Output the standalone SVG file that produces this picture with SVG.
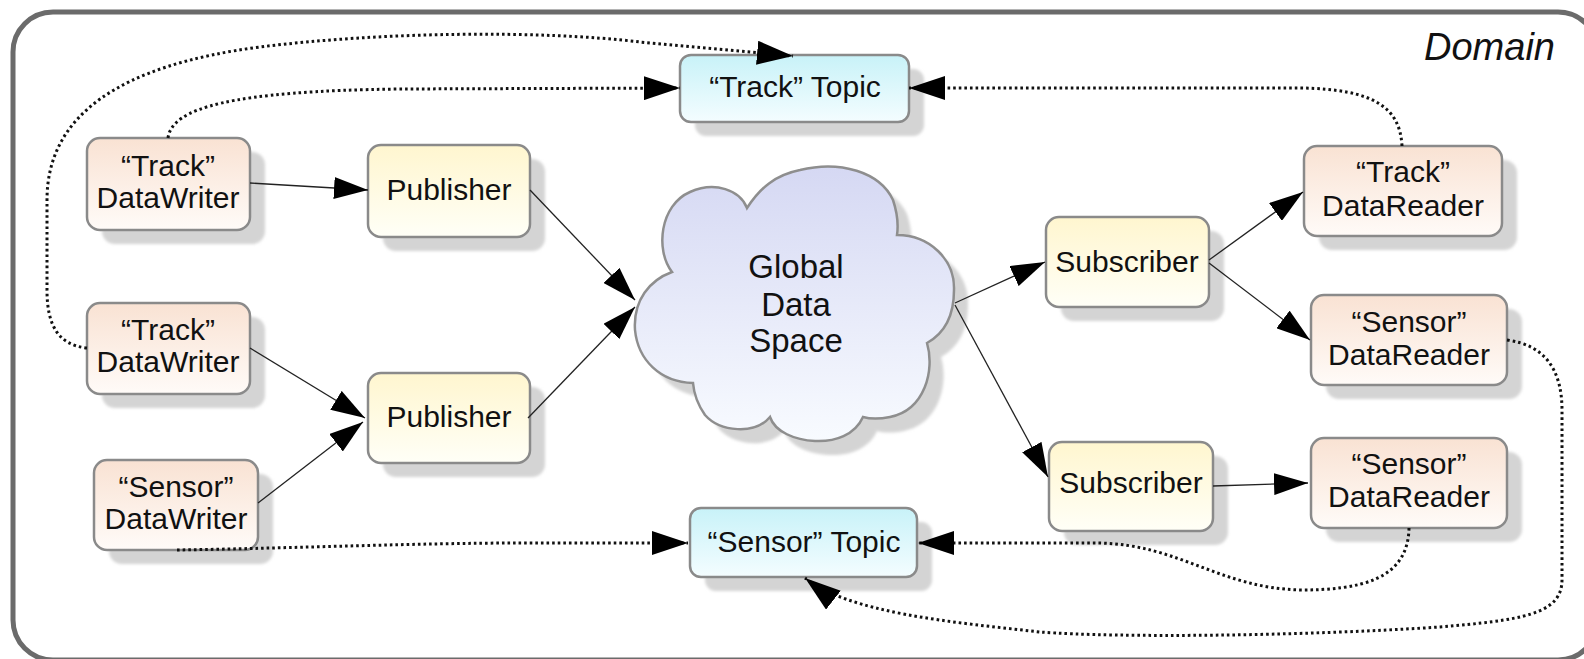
<svg xmlns="http://www.w3.org/2000/svg" width="1584" height="659" viewBox="0 0 1584 659">
  <defs>
    <linearGradient id="gPeach" x1="0" y1="0" x2="0" y2="1">
      <stop offset="0" stop-color="#f9e2d3"/>
      <stop offset="1" stop-color="#fffbf8"/>
    </linearGradient>
    <linearGradient id="gYellow" x1="0" y1="0" x2="0" y2="1">
      <stop offset="0" stop-color="#fff6cf"/>
      <stop offset="1" stop-color="#fffff7"/>
    </linearGradient>
    <linearGradient id="gCyan" x1="0" y1="0" x2="0" y2="1">
      <stop offset="0" stop-color="#c8f2f8"/>
      <stop offset="1" stop-color="#f4fdff"/>
    </linearGradient>
    <linearGradient id="gCloud" x1="0" y1="0" x2="0" y2="1">
      <stop offset="0" stop-color="#d5d8f3"/>
      <stop offset="1" stop-color="#f8fbff"/>
    </linearGradient>
    <filter id="soft" x="-10%" y="-10%" width="120%" height="120%">
      <feGaussianBlur stdDeviation="1.5"/>
    </filter>
    <marker id="head" viewBox="0 0 36 24" markerWidth="36" markerHeight="24" refX="36" refY="12" orient="auto" markerUnits="userSpaceOnUse">
      <path d="M0,0 L36,12 L0,24 Z" fill="#000"/>
    </marker>
    <marker id="headS" viewBox="0 0 34 22" markerWidth="34" markerHeight="22" refX="34" refY="11" orient="auto" markerUnits="userSpaceOnUse">
      <path d="M0,0 L34,11 L0,22 Z" fill="#000"/>
    </marker>
  </defs>
  <style>
    .frame { fill: #ffffff; stroke: #6b6b6b; stroke-width: 5; }
    .shadow { fill: #d4d4d4; filter: url(#soft); }
    .box { stroke: #8a8a8a; stroke-width: 2.5; }
    .peach { fill: url(#gPeach); }
    .yellow { fill: url(#gYellow); }
    .cyan { fill: url(#gCyan); }
    .cloud { fill: url(#gCloud); stroke: #8e8e8e; stroke-width: 2.5; }
    .lbl { font-family: "Liberation Sans", Arial, sans-serif; font-size: 30px; fill: #111; text-anchor: middle; }
    .cloudlbl { font-family: "Liberation Sans", Arial, sans-serif; font-size: 33px; fill: #111; text-anchor: middle; }
    .domain { font-family: "Liberation Sans", Arial, sans-serif; font-size: 38px; font-style: italic; fill: #111; text-anchor: end; }
    .solid { fill: none; stroke: #222; stroke-width: 1.3; marker-end: url(#headS); }
    .dotted { fill: none; stroke: #111; stroke-width: 3; stroke-dasharray: 2.6 3; marker-end: url(#head); }
  </style>

  <!-- domain boundary -->
  <g id="domain">
    <rect class="frame" x="13" y="12" width="1585" height="648" rx="40" ry="40"/>
    <text class="domain" x="1555" y="60">Domain</text>
  </g>

  <!-- central data space -->
  <g id="global-data-space">
    <path class="shadow" transform="translate(14,14)" d="M672,272 C655,250 660,205 690,192 C715,181 740,190 747,208 C760,188 775,175 800,170 C840,160 880,172 893,200 C898,215 898,228 897,235 C930,235 955,260 954,290 C954,315 945,333 927,343 C935,370 925,410 890,417 C880,419 870,419 863,417 C855,435 835,442 815,441 C795,440 775,432 770,417 C755,435 720,432 705,415 C698,405 694,395 693,383 C660,382 638,360 635,330 C633,300 650,280 672,272 Z"/>
    <path class="cloud" d="M672,272 C655,250 660,205 690,192 C715,181 740,190 747,208 C760,188 775,175 800,170 C840,160 880,172 893,200 C898,215 898,228 897,235 C930,235 955,260 954,290 C954,315 945,333 927,343 C935,370 925,410 890,417 C880,419 870,419 863,417 C855,435 835,442 815,441 C795,440 775,432 770,417 C755,435 720,432 705,415 C698,405 694,395 693,383 C660,382 638,360 635,330 C633,300 650,280 672,272 Z"/>
    <text class="cloudlbl" x="796" y="278">Global</text>
    <text class="cloudlbl" x="796" y="316">Data</text>
    <text class="cloudlbl" x="796" y="352">Space</text>
  </g>

  <!-- topics -->
  <g id="track-topic">
    <rect class="shadow" x="695" y="69" width="229" height="67" rx="11"/>
    <rect class="box cyan" x="680" y="55" width="229" height="67" rx="11"/>
    <text class="lbl" x="795" y="97">“Track” Topic</text>
  </g>
  <g id="sensor-topic">
    <rect class="shadow" x="705" y="522" width="227" height="69" rx="11"/>
    <rect class="box cyan" x="690" y="508" width="227" height="69" rx="11"/>
    <text class="lbl" x="804" y="552">“Sensor” Topic</text>
  </g>

  <!-- writers -->
  <g id="track-writer-1">
    <rect class="shadow" x="102" y="152" width="163" height="92" rx="13"/>
    <rect class="box peach" x="87" y="138" width="163" height="92" rx="13"/>
    <text class="lbl" x="168" y="176">“Track”</text>
    <text class="lbl" x="168" y="208">DataWriter</text>
  </g>
  <g id="track-writer-2">
    <rect class="shadow" x="102" y="317" width="163" height="91" rx="13"/>
    <rect class="box peach" x="87" y="303" width="163" height="91" rx="13"/>
    <text class="lbl" x="168" y="340">“Track”</text>
    <text class="lbl" x="168" y="372">DataWriter</text>
  </g>
  <g id="sensor-writer">
    <rect class="shadow" x="109" y="474" width="164" height="90" rx="13"/>
    <rect class="box peach" x="94" y="460" width="164" height="90" rx="13"/>
    <text class="lbl" x="176" y="497">“Sensor”</text>
    <text class="lbl" x="176" y="529">DataWriter</text>
  </g>

  <!-- publishers -->
  <g id="publisher-1">
    <rect class="shadow" x="383" y="159" width="162" height="92" rx="13"/>
    <rect class="box yellow" x="368" y="145" width="162" height="92" rx="13"/>
    <text class="lbl" x="449" y="200">Publisher</text>
  </g>
  <g id="publisher-2">
    <rect class="shadow" x="383" y="387" width="162" height="90" rx="13"/>
    <rect class="box yellow" x="368" y="373" width="162" height="90" rx="13"/>
    <text class="lbl" x="449" y="427">Publisher</text>
  </g>

  <!-- subscribers -->
  <g id="subscriber-1">
    <rect class="shadow" x="1061" y="231" width="163" height="90" rx="13"/>
    <rect class="box yellow" x="1046" y="217" width="163" height="90" rx="13"/>
    <text class="lbl" x="1127" y="272">Subscriber</text>
  </g>
  <g id="subscriber-2">
    <rect class="shadow" x="1064" y="456" width="164" height="89" rx="13"/>
    <rect class="box yellow" x="1049" y="442" width="164" height="89" rx="13"/>
    <text class="lbl" x="1131" y="493">Subscriber</text>
  </g>

  <!-- readers -->
  <g id="track-reader">
    <rect class="shadow" x="1319" y="160" width="198" height="90" rx="13"/>
    <rect class="box peach" x="1304" y="146" width="198" height="90" rx="13"/>
    <text class="lbl" x="1403" y="182">“Track”</text>
    <text class="lbl" x="1403" y="216">DataReader</text>
  </g>
  <g id="sensor-reader-1">
    <rect class="shadow" x="1326" y="309" width="196" height="90" rx="13"/>
    <rect class="box peach" x="1311" y="295" width="196" height="90" rx="13"/>
    <text class="lbl" x="1409" y="332">“Sensor”</text>
    <text class="lbl" x="1409" y="365">DataReader</text>
  </g>
  <g id="sensor-reader-2">
    <rect class="shadow" x="1326" y="452" width="196" height="90" rx="13"/>
    <rect class="box peach" x="1311" y="438" width="196" height="90" rx="13"/>
    <text class="lbl" x="1409" y="474">“Sensor”</text>
    <text class="lbl" x="1409" y="507">DataReader</text>
  </g>

  <!-- connectors -->
  <g id="connectors">
    <!-- data flow -->
    <path class="solid" d="M250,183 L368,190"/>
    <path class="solid" d="M250,348 L365,418"/>
    <path class="solid" d="M258,503 L363,422"/>
    <path class="solid" d="M530,190 L635,300"/>
    <path class="solid" d="M528,418 L635,307"/>
    <path class="solid" d="M955,303 L1045,262"/>
    <path class="solid" d="M955,305 L1048,477"/>
    <path class="solid" d="M1209,260 L1303,192"/>
    <path class="solid" d="M1209,263 L1310,340"/>
    <path class="solid" d="M1213,486 L1308,483"/>
    <!-- topic associations -->
    <path class="dotted" d="M87,348 C58,345 47,325 47,290 L47,200 C47,115 120,65 260,47 C380,32 540,30 640,42 L793,56"/>
    <path class="dotted" d="M168,138 C172,108 230,91 400,89 L680,88"/>
    <path class="dotted" d="M1402,146 C1400,108 1375,89 1300,88 L909,88"/>
    <path class="dotted" d="M177,550 C300,548 420,543 520,543 L688,543"/>
    <path class="dotted" d="M1409,528 C1408,580 1360,590 1300,590 C1220,588 1180,545 1100,543 L918,543"/>
    <path class="dotted" d="M1507,340 C1545,345 1562,370 1562,410 L1562,580 C1562,615 1520,620 1440,627 C1300,636 1120,638 1040,632 C950,622 850,613 805,578"/>
  </g>
</svg>
